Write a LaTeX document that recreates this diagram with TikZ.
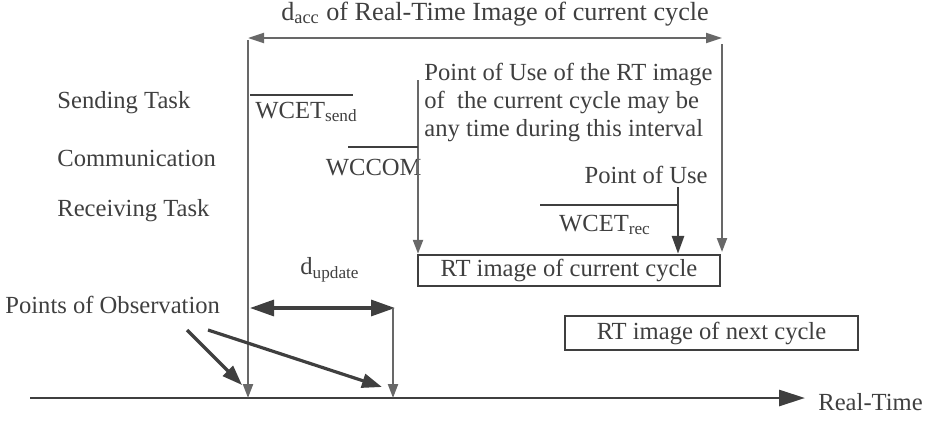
\documentclass[tikz,border=0pt]{standalone}
\usepackage{fontspec}
\setmainfont{Liberation Serif}
\usetikzlibrary{arrows.meta,positioning}
\definecolor{inkgray}{HTML}{3F3F3F}
\definecolor{guidegray}{HTML}{686868}
\tikzset{
  lbl/.style={inner sep=0pt,text=inkgray,font=\fontsize{12.3}{14}\selectfont},
  imgbox/.style={rectangle,draw=inkgray,line width=1.2pt,inner sep=0pt,text=inkgray,font=\fontsize{12.3}{14}\selectfont},
  guide/.style={draw=guidegray,line width=1.1pt,-{Triangle[length=7pt,width=5pt]}},
  arrow/.style={-{Triangle[length=11pt,width=7pt]},line width=1.6pt,draw=inkgray},
  bar/.style={line width=1.2pt,draw=inkgray}
}
\begin{document}
\begin{tikzpicture}[x=0.5pt,y=-0.5pt]
  \useasboundingbox (0,0) rectangle (935,428);
  \node[lbl,anchor=west] (send) at (57,103) {Sending Task};
  \node[lbl,anchor=west] (comm) at (57,158) {Communication};
  \node[lbl,anchor=west] (recv) at (57,211) {Receiving Task};
  \node[lbl,anchor=west] (obs) at (5,305) {Points of Observation};
  \node[lbl,font=\fontsize{13.1}{15}\selectfont] (dacc) at (495,14) {d\textsubscript{acc} of Real-Time Image of current cycle};
  \node[lbl,anchor=west,align=left] (note) at (424,102) {Point of Use of the RT image\\of \ the current cycle may be\\any time during this interval};
  \node[lbl,anchor=east] (use) at (708,175) {Point of Use};
  \node[lbl,anchor=west] (wsend) at (255,112) {WCET\textsubscript{send}};
  \node[lbl,anchor=east] (wcom) at (422,168) {WCCOM};
  \node[lbl] (wrec) at (605,225) {WCET\textsubscript{rec}};
  \node[lbl] (dupd) at (330,270) {d\textsubscript{update}};
  \node[lbl,anchor=west] (rt) at (818,402) {Real-Time};
  \node[imgbox,minimum width=151pt,minimum height=15.5pt] (cur) at (569,270.5) {RT image of current cycle};
  \node[imgbox,minimum width=146.5pt,minimum height=17pt] (next) at (711.5,333) {RT image of next cycle};
  \coordinate (t0) at (30,398);
  \coordinate (tend) at (805,398);
  \coordinate (obsA) at (248,398);
  \coordinate (obsB) at (393,398);
  \coordinate (topL) at (248,40);
  \coordinate (topR) at (722,44);
  \coordinate (accL) at (248,38);
  \coordinate (accR) at (722,38);
  \coordinate (accEnd) at (722,252);
  \coordinate (comTop) at (418,80);
  \coordinate (useTop) at (678,187);
  \coordinate (updL) at (250,308);
  \coordinate (updR) at (395,308);
  \coordinate (updTop) at (393,308);
  \coordinate (p1) at (187,330);
  \coordinate (q1) at (242,385);
  \coordinate (p2) at (208,330);
  \coordinate (q2) at (382,387);
  \draw[arrow,line width=1.4pt,-{Triangle[length=13pt,width=8pt]}] (t0) -- (tend);
  \draw[guide] (topL) -- (obsA);
  \draw[guide] (topR) -- (accEnd);
  \draw[guide,{Triangle[length=8pt,width=5pt]}-{Triangle[length=8pt,width=5pt]}] (accL) -- (accR);
  \draw[guide] (comTop) -- (comTop |- cur.north);
  \draw[arrow,line width=1.4pt,-{Triangle[length=9pt,width=6pt]}] (useTop) -- (useTop |- cur.north);
  \draw[bar] (250,95) -- (353,95);
  \draw[bar] (348,147) -- (comTop |- 0,147);
  \draw[bar] (540,205) -- (useTop |- 0,205);
  \draw[arrow,{Triangle[length=12pt,width=8pt]}-{Triangle[length=12pt,width=8pt]}] (updL) -- (updR);
  \draw[guide] (updTop) -- (obsB);
  \draw[arrow,-{Triangle[length=10pt,width=7pt]}] (p1) -- (q1);
  \draw[arrow,-{Triangle[length=10pt,width=7pt]}] (p2) -- (q2);
\end{tikzpicture}
\end{document}
